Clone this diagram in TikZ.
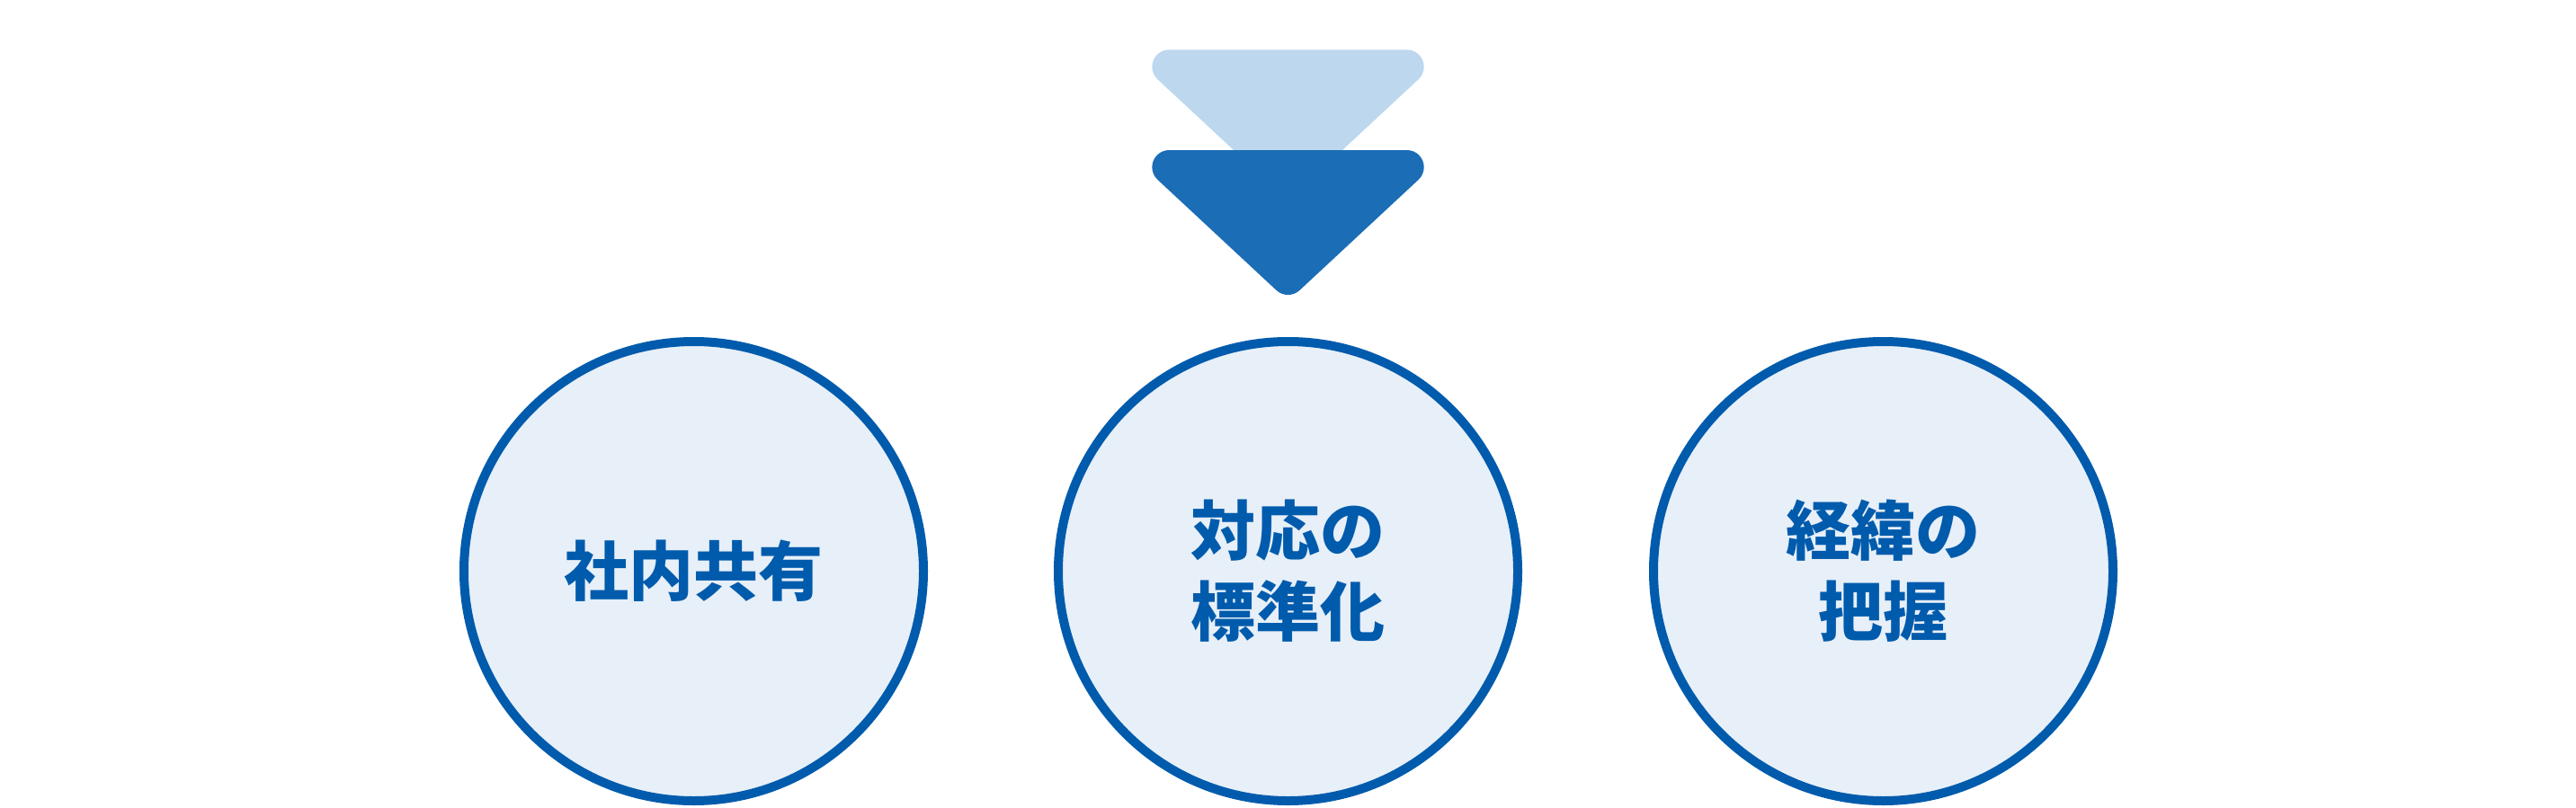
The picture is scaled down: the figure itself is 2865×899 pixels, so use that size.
\documentclass[tikz,border=0pt]{standalone}
\usepackage{fontspec}
\newfontfamily\jpfont{Noto Sans CJK JP}
\definecolor{circline}{HTML}{005BAC}
\definecolor{circfill}{HTML}{E7EFF8}
\definecolor{arrdark}{HTML}{1B6DB6}
\definecolor{arrlight}{HTML}{BDD7EE}
\tikzset{
  circbox/.style={circle, draw=circline, fill=circfill, line width=10pt,
    minimum size=511pt, inner sep=0pt, text=circline, align=center,
    font=\jpfont\bfseries\fontsize{72}{90}\selectfont}
}
\newcommand\myarrowpath{(1300.3,167) -- (1564.7,167)
  arc[start angle=-90, end angle=47.05, radius=19]
  -- (1445.45,322.95)
  arc[start angle=47.05, end angle=132.95, radius=19]
  -- (1287.4,199.9)
  arc[start angle=132.95, end angle=270, radius=19] -- cycle}
\begin{document}
\begin{tikzpicture}[x=1pt,y=-1pt]
\useasboundingbox (0,0) rectangle (2865,899);
% double down arrow
\fill[arrlight, yshift=111.7pt] \myarrowpath;
\fill[arrdark] \myarrowpath;
% circles
\node[circbox] (c1) at (771.5,635.5) {社内共有};
\node[circbox] (c2) at (1432.5,635.5) {対応の\\標準化};
\node[circbox] (c3) at (2094.5,635.5) {経緯の\\把握};
\end{tikzpicture}
\end{document}
